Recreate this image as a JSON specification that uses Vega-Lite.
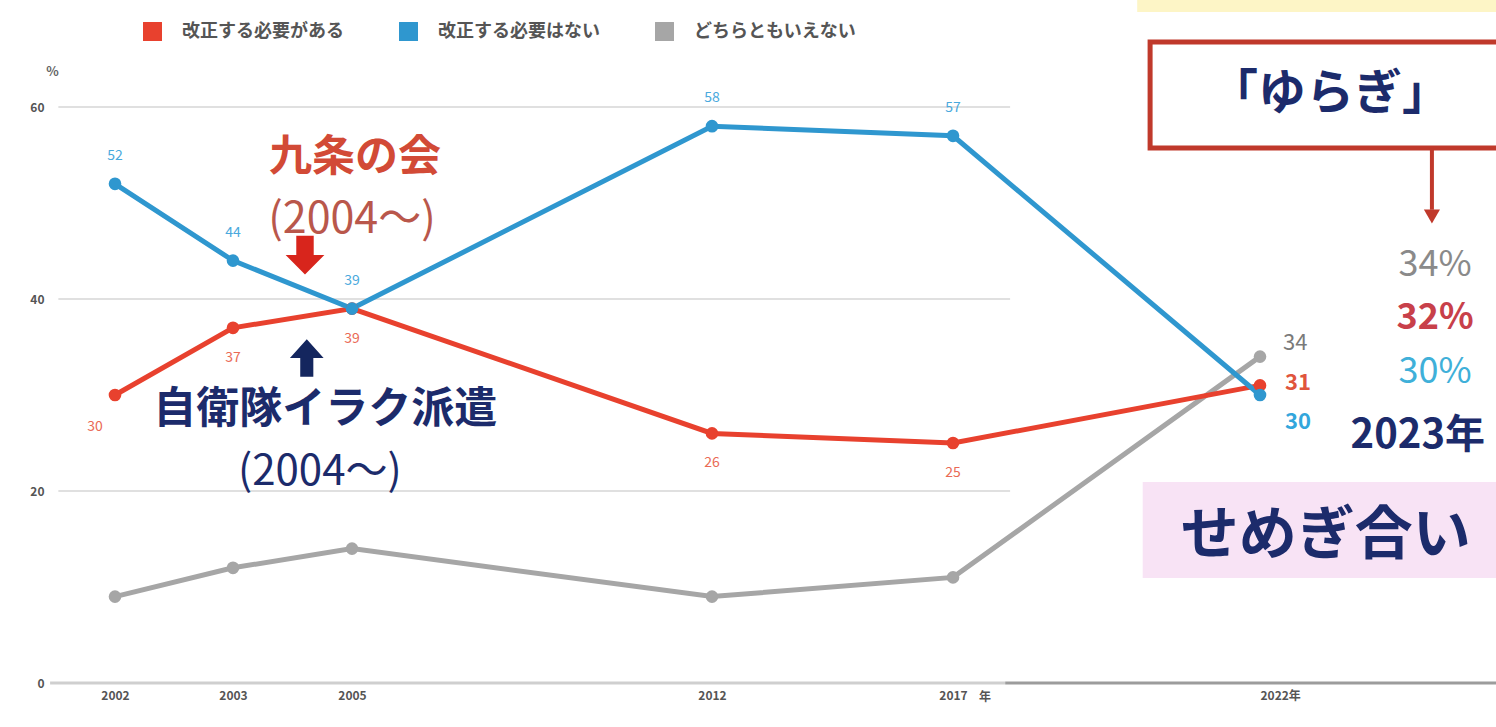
{
  "$schema": "https://vega.github.io/schema/vega-lite/v6.json",
  "width": 1496,
  "height": 727,
  "autosize": {"type": "none"},
  "padding": 0,
  "background": "white",
  "config": {"view": {"stroke": null}, "font": "Noto Sans CJK JP"},
  "data": {
    "values": [
      {"year": 2002, "series": "どちらともいえない", "value": 9},
      {"year": 2003, "series": "どちらともいえない", "value": 12},
      {"year": 2005, "series": "どちらともいえない", "value": 14},
      {"year": 2012, "series": "どちらともいえない", "value": 9},
      {"year": 2017, "series": "どちらともいえない", "value": 11},
      {"year": 2022, "series": "どちらともいえない", "value": 34},
      {"year": 2002, "series": "改正する必要がある", "value": 30},
      {"year": 2003, "series": "改正する必要がある", "value": 37},
      {"year": 2005, "series": "改正する必要がある", "value": 39},
      {"year": 2012, "series": "改正する必要がある", "value": 26},
      {"year": 2017, "series": "改正する必要がある", "value": 25},
      {"year": 2022, "series": "改正する必要がある", "value": 31},
      {"year": 2002, "series": "改正する必要はない", "value": 52},
      {"year": 2003, "series": "改正する必要はない", "value": 44},
      {"year": 2005, "series": "改正する必要はない", "value": 39},
      {"year": 2012, "series": "改正する必要はない", "value": 58},
      {"year": 2017, "series": "改正する必要はない", "value": 57},
      {"year": 2022, "series": "改正する必要はない", "value": 30}
    ]
  },
  "layer": [
    {
      "data": {"values": [{}]},
      "mark": {"type": "rect", "color": "#fdf5c6"},
      "encoding": {
        "x": {"datum": 2020.0, "type": "quantitative", "scale": {"domain": [2002, 2003, 2005, 2012, 2017, 2022], "range": [115, 233, 352, 712, 953, 1260], "zero": false, "nice": false}, "axis": {"values": [2002, 2003, 2005, 2012, 2017, 2022], "format": "d", "orient": "bottom", "offset": -44, "domain": false, "ticks": false, "grid": false, "title": null, "labelFontSize": 12, "labelFontWeight": "bold", "labelColor": "#555555", "labelPadding": 7, "labelExpr": "datum.value == 2022 ? '2022年' : datum.label", "labelAlign": {"condition": {"test": "datum.value == 2022", "value": "left"}, "value": "center"}, "labelFlush": false, "labelOverlap": false}},
        "x2": {"datum": 2027},
        "y": {"datum": 69.9, "type": "quantitative", "scale": {"domain": [0, 60], "range": [683, 107], "zero": false, "nice": false}, "axis": {"values": [0, 20, 40, 60], "orient": "left", "offset": -52, "domain": false, "ticks": false, "grid": false, "title": null, "labelFontSize": 12, "labelFontWeight": "bold", "labelColor": "#555555", "labelPadding": 8}},
        "y2": {"datum": 80}
      }
    },
    {
      "data": {"values": [{}]},
      "mark": {"type": "rect", "color": "#f8e3f5"},
      "encoding": {
        "x": {"datum": 2020.09, "type": "quantitative"},
        "x2": {"datum": 2027},
        "y": {"datum": 10.94, "type": "quantitative"},
        "y2": {"datum": 20.94}
      }
    },
    {
      "data": {"values": [{}]},
      "mark": {"type": "rect", "fill": "white", "stroke": "#c0392b", "strokeWidth": 5},
      "encoding": {
        "x": {"datum": 2020.21, "type": "quantitative"},
        "x2": {"datum": 2027},
        "y": {"datum": 55.73, "type": "quantitative"},
        "y2": {"datum": 66.77}
      }
    },
    {
      "data": {"values": [{"g": 20}, {"g": 40}, {"g": 60}]},
      "mark": {"type": "rule", "color": "#e0e0e0", "strokeWidth": 2},
      "encoding": {
        "x": {"datum": 2001.52, "type": "quantitative"},
        "x2": {"datum": 2017.93},
        "y": {"field": "g", "type": "quantitative"}
      }
    },
    {
      "data": {"values": [{}]},
      "mark": {"type": "rule", "color": "#cfcfcf", "strokeWidth": 3},
      "encoding": {
        "x": {"datum": 2001.45, "type": "quantitative"},
        "x2": {"datum": 2017.85},
        "y": {"datum": 0, "type": "quantitative"}
      }
    },
    {
      "data": {"values": [{}]},
      "mark": {"type": "rule", "color": "#9c9c9c", "strokeWidth": 3},
      "encoding": {
        "x": {"datum": 2017.85, "type": "quantitative"},
        "x2": {"datum": 2027},
        "y": {"datum": 0, "type": "quantitative"}
      }
    },
    {
      "mark": {"type": "line", "strokeWidth": 5},
      "encoding": {
        "x": {"field": "year", "type": "quantitative"},
        "y": {"field": "value", "type": "quantitative"},
        "color": {"field": "series", "type": "nominal", "scale": {"domain": ["改正する必要がある", "改正する必要はない", "どちらともいえない"], "range": ["#e8412e", "#2f97cf", "#a6a6a6"]}, "legend": {"orient": "none", "legendX": 143, "legendY": 22, "direction": "horizontal", "title": null, "symbolType": "square", "symbolSize": 360, "symbolStrokeWidth": 0, "symbolOpacity": 1, "labelFontSize": 18, "labelFontWeight": "bold", "labelColor": "#555555", "labelOffset": 20, "columnPadding": 55, "padding": 0, "labelLimit": 300}}
      }
    },
    {
      "mark": {"type": "point", "filled": true, "size": 160, "opacity": 1},
      "encoding": {
        "x": {"field": "year", "type": "quantitative"},
        "y": {"field": "value", "type": "quantitative"},
        "color": {"field": "series", "type": "nominal", "legend": {"orient": "none", "legendX": 143, "legendY": 22, "direction": "horizontal", "title": null, "symbolType": "square", "symbolSize": 360, "symbolStrokeWidth": 0, "symbolOpacity": 1, "labelFontSize": 18, "labelFontWeight": "bold", "labelColor": "#555555", "labelOffset": 20, "columnPadding": 55, "padding": 0, "labelLimit": 300}}
      }
    },
    {
      "transform": [{"filter": "datum.series == '改正する必要はない' && datum.year != 2022"}],
      "mark": {"type": "text", "dy": -28, "fontSize": 14, "color": "#4aa9dd"},
      "encoding": {
        "x": {"field": "year", "type": "quantitative"},
        "y": {"field": "value", "type": "quantitative"},
        "text": {"field": "value", "type": "quantitative"}
      }
    },
    {
      "transform": [{"filter": "datum.series == '改正する必要がある' && datum.year != 2022 && datum.year != 2002"}],
      "mark": {"type": "text", "dy": 30, "fontSize": 14, "color": "#ea6a55"},
      "encoding": {
        "x": {"field": "year", "type": "quantitative"},
        "y": {"field": "value", "type": "quantitative"},
        "text": {"field": "value", "type": "quantitative"}
      }
    },
    {
      "transform": [{"filter": "datum.series == '改正する必要がある' && datum.year == 2002"}],
      "mark": {"type": "text", "dy": 32, "dx": -20, "fontSize": 14, "color": "#ea6a55"},
      "encoding": {
        "x": {"field": "year", "type": "quantitative"},
        "y": {"field": "value", "type": "quantitative"},
        "text": {"field": "value", "type": "quantitative"}
      }
    },
    {
      "transform": [{"filter": "datum.series == 'どちらともいえない' && datum.year == 2022"}],
      "mark": {"type": "text", "align": "left", "dx": 23, "dy": -14, "fontSize": 22, "color": "#7a7a7a"},
      "encoding": {
        "x": {"field": "year", "type": "quantitative"},
        "y": {"field": "value", "type": "quantitative"},
        "text": {"field": "value", "type": "quantitative"}
      }
    },
    {
      "transform": [{"filter": "datum.series == '改正する必要がある' && datum.year == 2022"}],
      "mark": {"type": "text", "align": "left", "dx": 25, "dy": -2, "fontSize": 22, "fontWeight": "bold", "color": "#e0553c"},
      "encoding": {
        "x": {"field": "year", "type": "quantitative"},
        "y": {"field": "value", "type": "quantitative"},
        "text": {"field": "value", "type": "quantitative"}
      }
    },
    {
      "transform": [{"filter": "datum.series == '改正する必要はない' && datum.year == 2022"}],
      "mark": {"type": "text", "align": "left", "dx": 25, "dy": 27, "fontSize": 22, "fontWeight": "bold", "color": "#33a6dc"},
      "encoding": {
        "x": {"field": "year", "type": "quantitative"},
        "y": {"field": "value", "type": "quantitative"},
        "text": {"field": "value", "type": "quantitative"}
      }
    },
    {
      "data": {"values": [{}]},
      "mark": {"type": "text", "text": "%", "fontSize": 13, "fontWeight": "bold", "color": "#666666"},
      "encoding": {"x": {"datum": 2001.47, "type": "quantitative"}, "y": {"datum": 63.6, "type": "quantitative"}}
    },
    {
      "data": {"values": [{}]},
      "mark": {"type": "text", "text": "年", "fontSize": 12, "fontWeight": "bold", "color": "#555555", "dx": 32, "dy": 14},
      "encoding": {"x": {"datum": 2017, "type": "quantitative"}, "y": {"datum": 0, "type": "quantitative"}}
    },
    {
      "data": {"values": [{}]},
      "mark": {"type": "text", "text": "九条の会", "fontSize": 43, "fontWeight": "bold", "color": "#d24a36"},
      "encoding": {"x": {"datum": 2005.06, "type": "quantitative"}, "y": {"datum": 54.7, "type": "quantitative"}}
    },
    {
      "data": {"values": [{}]},
      "mark": {"type": "text", "text": "(2004〜)", "fontSize": 43, "color": "#b9574b"},
      "encoding": {"x": {"datum": 2005.0, "type": "quantitative"}, "y": {"datum": 48.2, "type": "quantitative"}}
    },
    {
      "data": {"values": [{}]},
      "mark": {"type": "point", "filled": true, "opacity": 1, "color": "#d8251c", "size": 1500, "shape": "M-0.45,-1 L0.45,-1 L0.45,0 L1,0 L0,1 L-1,0 L-0.45,0 Z"},
      "encoding": {"x": {"datum": 2004.21, "type": "quantitative"}, "y": {"datum": 44.58, "type": "quantitative"}}
    },
    {
      "data": {"values": [{}]},
      "mark": {"type": "point", "filled": true, "opacity": 1, "color": "#14265e", "size": 1400, "shape": "M-0.35,1 L0.35,1 L0.35,0 L0.9,0 L0,-1 L-0.9,0 L-0.35,0 Z"},
      "encoding": {"x": {"datum": 2004.24, "type": "quantitative"}, "y": {"datum": 33.85, "type": "quantitative"}}
    },
    {
      "data": {"values": [{}]},
      "mark": {"type": "text", "text": "自衛隊イラク派遣", "fontSize": 43, "fontWeight": "bold", "color": "#1c2b6b"},
      "encoding": {"x": {"datum": 2004.55, "type": "quantitative"}, "y": {"datum": 28.4, "type": "quantitative"}}
    },
    {
      "data": {"values": [{}]},
      "mark": {"type": "text", "text": "(2004〜)", "fontSize": 42, "color": "#1c2b6b"},
      "encoding": {"x": {"datum": 2004.46, "type": "quantitative"}, "y": {"datum": 22.0, "type": "quantitative"}}
    },
    {
      "data": {"values": [{}]},
      "mark": {"type": "text", "text": "「ゆらぎ」", "fontSize": 48, "fontWeight": "bold", "color": "#1c2b6b"},
      "encoding": {"x": {"datum": 2023.14, "type": "quantitative"}, "y": {"datum": 61.25, "type": "quantitative"}}
    },
    {
      "data": {"values": [{}]},
      "mark": {"type": "rule", "color": "#c0392b", "strokeWidth": 4},
      "encoding": {"x": {"datum": 2024.8, "type": "quantitative"}, "y": {"datum": 55.73, "type": "quantitative"}, "y2": {"datum": 49.3}}
    },
    {
      "data": {"values": [{}]},
      "mark": {"type": "point", "filled": true, "opacity": 1, "color": "#c0392b", "size": 260, "shape": "triangle-down"},
      "encoding": {"x": {"datum": 2024.8, "type": "quantitative"}, "y": {"datum": 48.6, "type": "quantitative"}}
    },
    {
      "data": {"values": [{}]},
      "mark": {"type": "text", "text": "34%", "fontSize": 36, "color": "#8a8a8a"},
      "encoding": {"x": {"datum": 2024.85, "type": "quantitative"}, "y": {"datum": 43.54, "type": "quantitative"}}
    },
    {
      "data": {"values": [{}]},
      "mark": {"type": "text", "text": "32%", "fontSize": 36, "fontWeight": "bold", "color": "#c8404a"},
      "encoding": {"x": {"datum": 2024.85, "type": "quantitative"}, "y": {"datum": 38.02, "type": "quantitative"}}
    },
    {
      "data": {"values": [{}]},
      "mark": {"type": "text", "text": "30%", "fontSize": 36, "color": "#3fb0d9"},
      "encoding": {"x": {"datum": 2024.85, "type": "quantitative"}, "y": {"datum": 32.4, "type": "quantitative"}}
    },
    {
      "data": {"values": [{}]},
      "mark": {"type": "text", "text": "2023年", "fontSize": 40, "fontWeight": "bold", "color": "#1c2b6b"},
      "encoding": {"x": {"datum": 2024.57, "type": "quantitative"}, "y": {"datum": 25.73, "type": "quantitative"}}
    },
    {
      "data": {"values": [{}]},
      "mark": {"type": "text", "text": "せめぎ合い", "fontSize": 58, "fontWeight": "bold", "color": "#1c2b6b"},
      "encoding": {"x": {"datum": 2023.07, "type": "quantitative"}, "y": {"datum": 15.2, "type": "quantitative"}}
    }
  ]
}
